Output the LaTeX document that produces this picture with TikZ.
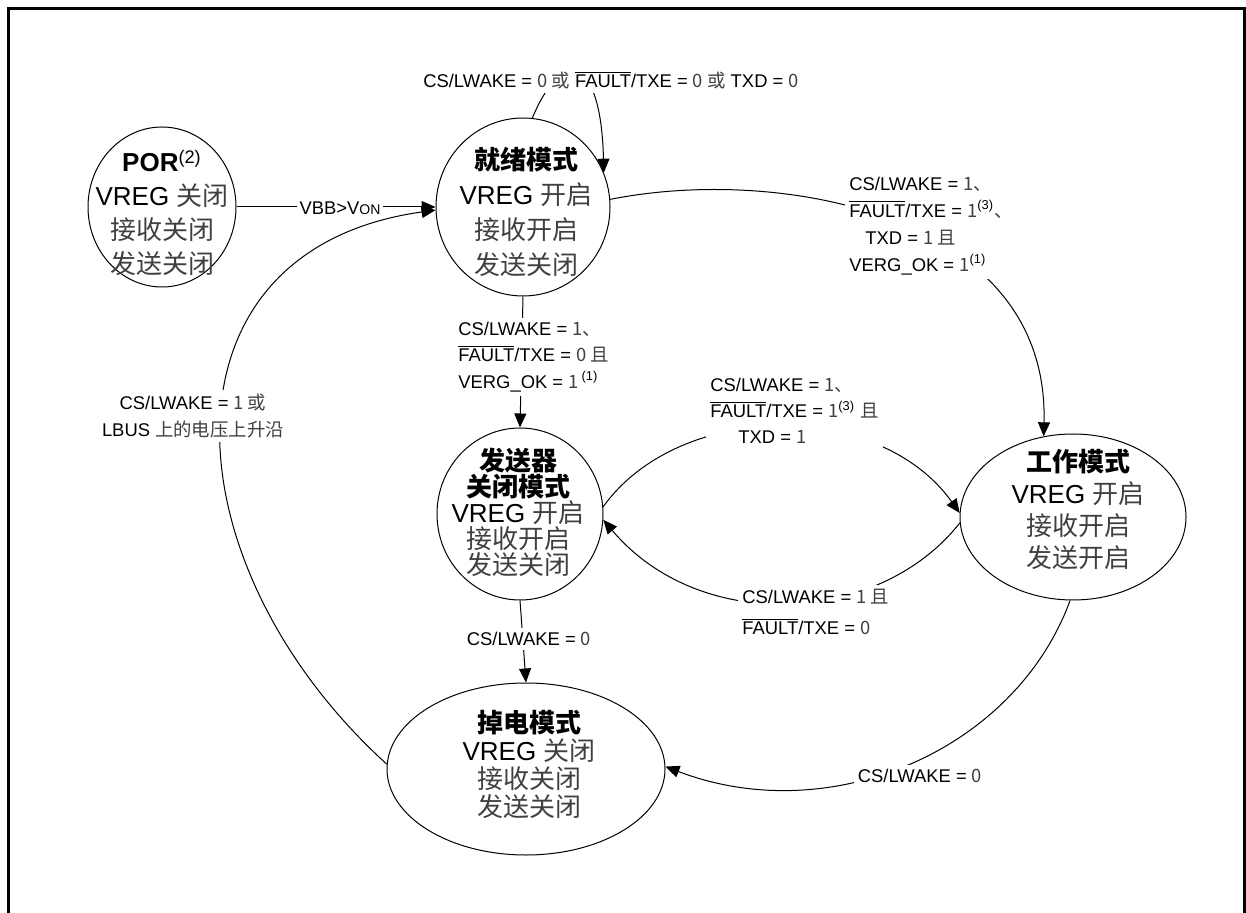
\documentclass[tikz,border=0pt]{standalone}
\usepackage{fontspec}
\setmainfont{Liberation Sans}
\newfontfamily\cjk{Noto Sans CJK SC}
\usetikzlibrary{arrows.meta,shapes.geometric}

\newcommand{\zh}[1]{{\cjk\color{black!75}#1}}
\newcommand{\zhb}[1]{{\cjk\bfseries #1}}
\newcommand{\ovl}[1]{$\overline{\mbox{#1}}$}

\tikzset{
  state/.style={draw, ellipse, line width=0.5pt, inner sep=0pt},
  stxt/.style={align=center, inner sep=0pt},
  lbl/.style={fill=white, inner sep=2pt, font=\fontsize{9.2}{13.5}\selectfont},
  arr/.style={line width=0.5pt, -{Triangle[length=7pt,width=6pt]}},
}

\begin{document}
\begin{tikzpicture}[x=0.5pt, y=-0.5pt]
    \useasboundingbox (0,0) rectangle (1246,913);

    % Outer frame (open at the bottom)
    \draw[line width=1.5pt] (8.5,930) -- (8.5,8.5) -- (1244,8.5) -- (1244,930);

    % States
    \node[state, minimum width=74pt, minimum height=80pt] (por) at (162,207) {};
    \node[state, minimum width=87pt, minimum height=89pt] (rdy) at (523,207) {};
    \node[state, minimum width=83pt, minimum height=86pt] (txo) at (520,514) {};
    \node[state, minimum width=113pt, minimum height=83pt] (wrk) at (1073,517) {};
    \node[state, minimum width=139pt, minimum height=86pt] (pdn) at (526,769) {};

    % State texts
    \node[stxt, font=\fontsize{13}{17}\selectfont] (portxt) at (162,213)
      {\textbf{POR}\textsuperscript{(2)}\\VREG \zh{关闭}\\\zh{接收关闭}\\\zh{发送关闭}};
    \node[stxt, font=\fontsize{13}{17.5}\selectfont] (rdytxt) at (526,212)
      {\zhb{就绪模式}\\VREG \zh{开启}\\\zh{接收开启}\\\zh{发送关闭}};
    \node[stxt, font=\fontsize{13}{13}\selectfont] (txotxt) at (518,512)
      {\zhb{发送器}\\\zhb{关闭模式}\\VREG \zh{开启}\\\zh{接收开启}\\\zh{发送关闭}};
    \node[stxt, font=\fontsize{13}{16}\selectfont] (wrktxt) at (1078,509)
      {\zhb{工作模式}\\VREG \zh{开启}\\\zh{接收开启}\\\zh{发送开启}};
    \node[stxt, font=\fontsize{13}{14}\selectfont] (pdntxt) at (529,764)
      {\zhb{掉电模式}\\VREG \zh{关闭}\\\zh{接收关闭}\\\zh{发送关闭}};

    % Transitions
    \draw[arr] (por.east) -- (rdy.180);
    \draw[arr] (rdy.84) .. controls +(28,-68) and +(-3,-122) .. (rdy.23);
    \draw[arr] (rdy.5) .. controls +(170,-34) and +(6,-222) .. (wrk.110);
    \draw[arr] (rdy.south) -- (txo.north);
    \draw[arr] (txo.5) .. controls +(77,-107) and +(-80,-113) .. (wrk.178);
    \draw[arr] (wrk.183) .. controls +(-80,102) and +(97,115) .. (txo.356);
    \draw[arr] (txo.south) -- (pdn.north);
    \draw[arr] (wrk.268) .. controls +(-55,150) and +(165,63) .. (pdn.1);
    \draw[arr] (pdn.178) .. controls +(-220,-200) and +(-286,40) .. (rdy.182);

    % Transition labels
    \node[lbl, inner sep=1.5pt] (lblvbb) at (340,208) {VBB>V{\scriptsize ON}};
    \node[lbl] (lblself) at (611,80)
      {CS/LWAKE = \zh{0 或} \ovl{FAULT}/TXE = \zh{0 或} TXD = \zh{0}};
    \node[lbl, align=left, anchor=west] (lblrw) at (845,226)
      {CS/LWAKE = \zh{1、}\\
       \ovl{FAULT}/TXE = \zh{1}\textsuperscript{(3)}\zh{、}\\
       \hspace*{8pt}TXD = \zh{1 且}\\
       VERG\_OK = \zh{1}\textsuperscript{(1)}};
    \node[lbl, align=left, anchor=west, font=\fontsize{9.2}{13.25}\selectfont] (lblrt) at (454,357)
      {CS/LWAKE = \zh{1、}\\
       \ovl{FAULT}/TXE = \zh{0 且}\\
       VERG\_OK = \zh{1}\,\textsuperscript{(1)}};
    \node[lbl, align=left, anchor=west, font=\fontsize{9.2}{13}\selectfont] (lbltw) at (706,411)
      {CS/LWAKE = \zh{1、}\\
       \ovl{FAULT}/TXE = \zh{1}\textsuperscript{(3)} \zh{且}\\
       \hspace*{14pt}TXD = \zh{1}};
    \node[lbl, align=left, anchor=west, font=\fontsize{9.2}{15.5}\selectfont] (lblwt) at (738,612)
      {CS/LWAKE = \zh{1 且}\\
       \ovl{FAULT}/TXE = \zh{0}};
    \node[lbl] (lbltp) at (529,639) {CS/LWAKE = \zh{0}};
    \node[lbl] (lblwp) at (920,776) {CS/LWAKE = \zh{0}};
    \node[lbl, align=center] (lblpr) at (193,416)
      {CS/LWAKE = \zh{1 或}\\
       LBUS \zh{上的电压上升沿}};
\end{tikzpicture}
\end{document}
